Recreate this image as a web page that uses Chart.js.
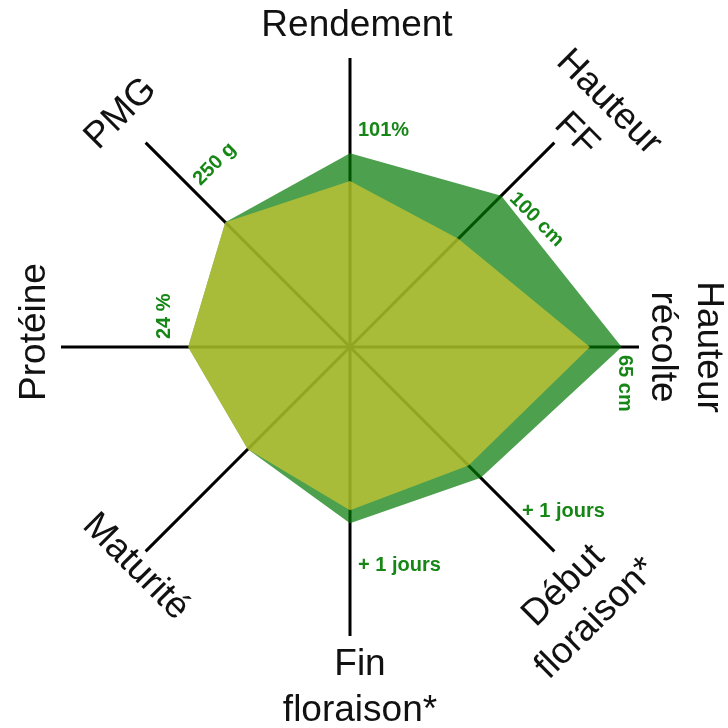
<!DOCTYPE html>
<html>
<head>
<meta charset="utf-8">
<script src="https://cdn.jsdelivr.net/npm/chart.js@4/dist/chart.umd.min.js"></script>
<style>
  html, body { margin: 0; padding: 0; background: #ffffff; }
  canvas { display: block; }
</style>
</head>
<body>
<canvas id="c" width="728" height="728"></canvas>
<script>
// ---- Data (normalised to the axis length, 0..1) ----
const categories = [
  ['Rendement'],
  ['Hauteur', 'FF'],
  ['Hauteur', 'récolte'],
  ['Début', 'floraison*'],
  ['Fin', 'floraison*'],
  ['Maturité'],
  ['Protéine'],
  ['PMG']
];
const varietyValues = [0.574, 0.53, 0.83, 0.58, 0.565, 0.50, 0.56, 0.61];
const referenceValues = [0.67, 0.74, 0.94, 0.64, 0.61, 0.50, 0.56, 0.61];
const valueLabels = ['101%', '100 cm', '65 cm', '+ 1 jours', '+ 1 jours', '', '24 %', '250 g'];

// ---- Layout / style (not data) ----
const labelDistance = [321, 333, 335, 343, 341, 307, 315, 327];
const labelShift    = [7, 10, 0, -18, 10, 4, 15, 3];
const valueDistance = [217, 222, 275, 232, 218, 0, 186, 225];
const valueRotation = [0, 45, 90, 0, 0, 0, -90, -45];

function labelRotationDeg(indexAngleRad) {
  let a = indexAngleRad * 180 / Math.PI;
  a = ((a % 360) + 360) % 360;
  if (a > 90 && a < 270) a -= 180;
  else if (a >= 270) a -= 360;
  return a;
}

const customLabels = {
  id: 'customLabels',
  afterDraw(chart) {
    const scale = chart.scales.r;
    const ctx = chart.ctx;
    // axis names
    ctx.save();
    ctx.fillStyle = '#111111';
    ctx.font = '37px "Liberation Sans", Arial, sans-serif';
    ctx.textAlign = 'center';
    ctx.textBaseline = 'middle';
    const lh = 46;
    categories.forEach((lines, i) => {
      const p = scale.getPointPosition(i, labelDistance[i]);
      const rot = labelRotationDeg(scale.getIndexAngle(i)) * Math.PI / 180;
      ctx.save();
      ctx.translate(p.x, p.y);
      ctx.rotate(rot);
      ctx.translate(labelShift[i], 0);
      const n = lines.length;
      lines.forEach((t, k) => {
        ctx.fillText(t, 0, (k - (n - 1) / 2) * lh);
      });
      ctx.restore();
    });
    ctx.restore();

    // value annotations
    ctx.save();
    ctx.fillStyle = 'rgb(22,135,22)';
    ctx.font = 'bold 20px "Liberation Sans", Arial, sans-serif';
    ctx.textAlign = 'left';
    ctx.textBaseline = 'middle';
    valueLabels.forEach((t, i) => {
      if (!t) return;
      const p = scale.getPointPosition(i, valueDistance[i]);
      ctx.save();
      ctx.translate(p.x, p.y);
      ctx.rotate(valueRotation[i] * Math.PI / 180);
      ctx.fillText(t, 8, 0);
      ctx.restore();
    });
    ctx.restore();
  }
};

new Chart(document.getElementById('c'), {
  type: 'radar',
  data: {
    labels: categories,
    datasets: [
      {
        data: varietyValues,
        backgroundColor: 'rgba(207,199,50,0.7)',
        borderColor: 'rgba(0,0,0,0)',
        borderWidth: 0,
        pointRadius: 0,
        fill: true
      },
      {
        data: referenceValues,
        backgroundColor: 'rgba(1,119,1,0.7)',
        borderColor: 'rgba(0,0,0,0)',
        borderWidth: 0,
        pointRadius: 0,
        fill: true
      }
    ]
  },
  options: {
    responsive: false,
    animation: false,
    events: [],
    layout: { padding: { left: 61, right: 89, top: 58, bottom: 92 } },
    plugins: { legend: { display: false }, tooltip: { enabled: false } },
    scales: {
      r: {
        min: 0,
        max: 1,
        ticks: { display: false },
        grid: { display: false },
        angleLines: { display: true, color: '#000000', lineWidth: 3 },
        pointLabels: { display: false }
      }
    }
  },
  plugins: [customLabels]
});
</script>
</body>
</html>
